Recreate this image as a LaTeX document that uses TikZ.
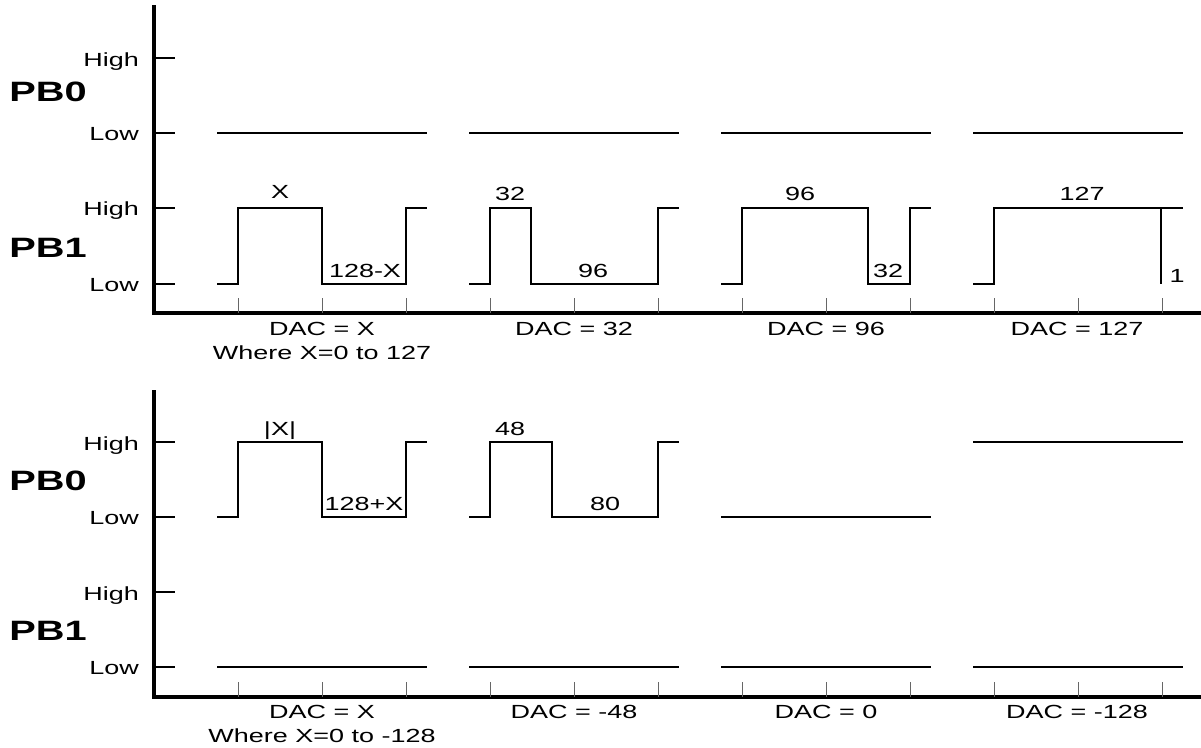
\documentclass[tikz,border=0pt]{standalone}
\usepackage{fontspec}
\setmainfont{Liberation Sans}
\newcommand{\wide}[1]{\scalebox{1.42}[1]{#1}}
\begin{document}
\begin{tikzpicture}[x=1pt,y=-1pt,
  wave/.style={line width=2.8pt, line join=miter},
  axisline/.style={line width=3.2pt},
  ytick/.style={line width=2pt},
  xtick/.style={line width=1pt, black!60},
  lbl/.style={font=\fontsize{19}{21}\selectfont, inner sep=0pt},
  big/.style={font=\fontsize{28}{30}\selectfont\bfseries, inner sep=0pt}]
\useasboundingbox (0,0) rectangle (1201,747);

% ---------- top chart ----------
\draw[axisline] (154,5) -- (154,313) -- (1201,313);
\foreach \y in {58,133,208,284} \draw[ytick] (154,\y) -- (175,\y);
\foreach \g in {238,490,742,994} \foreach \k in {0,84,168}
  \draw[xtick] (\g+\k,298) -- (\g+\k,313);

\node[lbl, anchor=base east] (h1) at (139,66) {\wide{High}};
\node[lbl, anchor=base east] (l1) at (139,140) {\wide{Low}};
\node[lbl, anchor=base east] (h2) at (139,215) {\wide{High}};
\node[lbl, anchor=base east] (l2) at (139,291) {\wide{Low}};
\node[big, anchor=base] (pb0a) at (48,101) {\wide{PB0}};
\node[big, anchor=base] (pb1a) at (48,257) {\wide{PB1}};

% PB0 low lines
\foreach \x in {217,469,721,973} \draw[wave] (\x,133) -- (\x+210,133);

% PB1 waveforms
\draw[wave] (217,284) -- (238,284) -- (238,208) -- (322,208) -- (322,284) -- (406,284) -- (406,208) -- (427,208);
\draw[wave] (469,284) -- (490,284) -- (490,208) -- (531,208) -- (531,284) -- (658,284) -- (658,208) -- (679,208);
\draw[wave] (721,284) -- (742,284) -- (742,208) -- (868,208) -- (868,284) -- (910,284) -- (910,208) -- (931,208);
\draw[wave] (973,284) -- (994,284) -- (994,208) -- (1183,208);
\draw[wave] (1161,208) -- (1161,284);

\node[lbl, anchor=base] (tx) at (280,198) {\wide{X}};
\node[lbl, anchor=base] (t128x) at (365,277) {\wide{128-X}};
\node[lbl, anchor=base] (t32a) at (510,200) {\wide{32}};
\node[lbl, anchor=base] (t96a) at (593,277) {\wide{96}};
\node[lbl, anchor=base] (t96b) at (800,200) {\wide{96}};
\node[lbl, anchor=base] (t32b) at (888,277) {\wide{32}};
\node[lbl, anchor=base] (t127) at (1082,200) {\wide{127}};
\node[lbl, anchor=base] (t1) at (1177,282) {\wide{1}};

\node[lbl, anchor=base] (d1) at (322,335) {\wide{DAC = X}};
\node[lbl, anchor=base] (w1) at (322,359) {\wide{Where X=0 to 127}};
\node[lbl, anchor=base] (d2) at (574,335) {\wide{DAC = 32}};
\node[lbl, anchor=base] (d3) at (826,335) {\wide{DAC = 96}};
\node[lbl, anchor=base] (d4) at (1077,335) {\wide{DAC = 127}};

% ---------- bottom chart ----------
\draw[axisline] (154,390) -- (154,697) -- (1201,697);
\foreach \y in {442,517,592,667} \draw[ytick] (154,\y) -- (175,\y);
\foreach \g in {238,490,742,994} \foreach \k in {0,84,168}
  \draw[xtick] (\g+\k,682) -- (\g+\k,697);

\node[lbl, anchor=base east] (h3) at (139,450) {\wide{High}};
\node[lbl, anchor=base east] (l3) at (139,524) {\wide{Low}};
\node[lbl, anchor=base east] (h4) at (139,600) {\wide{High}};
\node[lbl, anchor=base east] (l4) at (139,674) {\wide{Low}};
\node[big, anchor=base] (pb0b) at (48,490) {\wide{PB0}};
\node[big, anchor=base] (pb1b) at (48,640) {\wide{PB1}};

% PB0 waveforms
\draw[wave] (217,517) -- (238,517) -- (238,442) -- (322,442) -- (322,517) -- (406,517) -- (406,442) -- (427,442);
\draw[wave] (469,517) -- (490,517) -- (490,442) -- (552,442) -- (552,517) -- (658,517) -- (658,442) -- (679,442);
\draw[wave] (721,517) -- (931,517);
\draw[wave] (973,442) -- (1183,442);
% PB1 low lines
\foreach \x in {217,469,721,973} \draw[wave] (\x,667) -- (\x+210,667);

\node[lbl, anchor=base] (tabsx) at (280,435) {\wide{|X|}};
\node[lbl, anchor=base] (t128p) at (364,510) {\wide{128+X}};
\node[lbl, anchor=base] (t48) at (510,435) {\wide{48}};
\node[lbl, anchor=base] (t80) at (605,510) {\wide{80}};

\node[lbl, anchor=base] (d5) at (322,718) {\wide{DAC = X}};
\node[lbl, anchor=base] (w2) at (322,742) {\wide{Where X=0 to -128}};
\node[lbl, anchor=base] (d6) at (574,718) {\wide{DAC = -48}};
\node[lbl, anchor=base] (d7) at (826,718) {\wide{DAC = 0}};
\node[lbl, anchor=base] (d8) at (1077,718) {\wide{DAC = -128}};
\end{tikzpicture}
\end{document}
